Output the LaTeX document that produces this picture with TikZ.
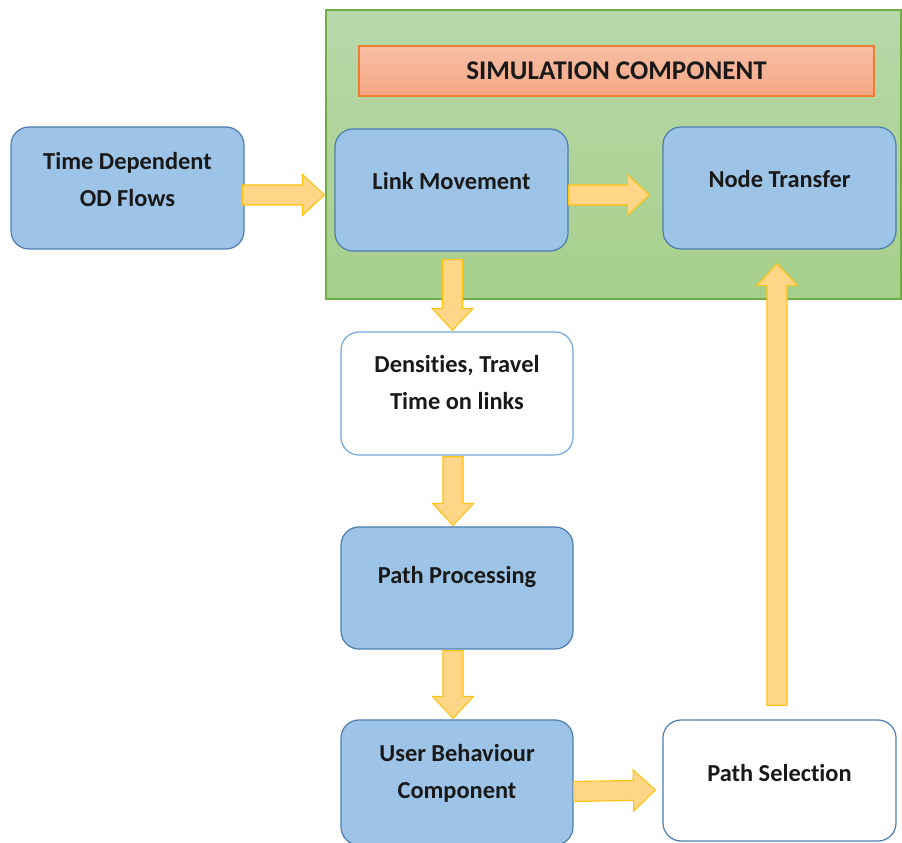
\documentclass[tikz,border=0pt]{standalone}
\usepackage{fontspec}
\setmainfont{Carlito}[Ligatures={NoCommon}]
\usetikzlibrary{calc}

\definecolor{boxfill}{HTML}{9DC3E6}
\definecolor{boxedge}{HTML}{4A7EB0}
\definecolor{lightedge}{HTML}{6FA8DC}
\definecolor{simtop}{HTML}{B8D8A9}
\definecolor{simbottom}{HTML}{A6CF8B}
\definecolor{simedge}{HTML}{70AD47}
\definecolor{bartop}{HTML}{F8BFA6}
\definecolor{barbottom}{HTML}{F4A683}
\definecolor{baredge}{HTML}{ED7D31}
\definecolor{arrowfill}{HTML}{FFD687}
\definecolor{arrowedge}{HTML}{FFC20E}

\tikzset{
  boxtext/.style={font=\bfseries\fontsize{24.4}{37}\selectfont, align=center, text=black!90},
  titletext/.style={font=\bfseries\fontsize{27}{32}\selectfont, text=black!90},
  bluebox/.style={draw=boxedge, fill=boxfill, line width=1.2pt, rounded corners=18pt,
    minimum width=233pt, minimum height=122pt},
  whitebox/.style={bluebox, fill=white},
  container/.style={draw=simedge, top color=simtop, bottom color=simbottom, line width=1.2pt},
  titlebar/.style={draw=baredge, top color=bartop, bottom color=barbottom, line width=1.2pt},
  blockarrow/.style={draw=arrowedge, fill=arrowfill, line width=1.1pt, line join=miter,
    to path={
      let \p1=(\tikztostart), \p2=(\tikztotarget),
          \p3=($(\tikztotarget)!22pt!(\tikztostart)$) in
      ($(\p1)!10pt!90:(\p2)$) -- ($(\p3)!10pt!90:(\p2)$) -- ($(\p3)!20.5pt!90:(\p2)$)
      -- (\p2) -- ($(\p3)!20.5pt!-90:(\p2)$) -- ($(\p3)!10pt!-90:(\p2)$)
      -- ($(\p1)!10pt!-90:(\p2)$) -- cycle}}
}

\begin{document}
\begin{tikzpicture}[x=1pt, y=1pt]
\useasboundingbox (0,0) rectangle (902,843);
\clip (0,0) rectangle (902,843);

% simulation component frame and its title bar
\node[container, minimum width=575pt, minimum height=289pt] (sim) at (613.5,688.5) {};
\node[titlebar, minimum width=515pt, minimum height=50pt, titletext] (title) at (616.5,772)
  {SIMULATION COMPONENT};

% process boxes
\node[bluebox, label={[boxtext, yshift=8.5pt]center:{Time Dependent\\OD Flows}}] (od) at (127.5,655) {};
\node[bluebox, label={[boxtext, yshift=9pt]center:{Link Movement}}] (lm) at (451.5,653) {};
\node[bluebox, label={[boxtext, yshift=9pt]center:{Node Transfer}}] (nt) at (779.5,655) {};
\node[whitebox, draw=lightedge, minimum width=232pt, minimum height=123pt,
  label={[boxtext, yshift=11pt]center:{Densities, Travel\\Time on links}}] (dens) at (457,449.5) {};
\node[bluebox, minimum width=232pt, label={[boxtext, yshift=10.5pt]center:{Path Processing}}] (pp) at (457,255) {};
\node[bluebox, minimum width=232pt, minimum height=125pt,
  label={[boxtext, yshift=9.5pt]center:{User Behaviour\\Component}}] (ub) at (457,60.5) {};
\node[whitebox, minimum height=121pt, label={[boxtext, yshift=7.5pt]center:{Path Selection}}] (ps) at (779.5,62.5) {};

% block arrows between the stages
\draw[blockarrow] ([xshift=-2pt,yshift=-7pt]od.east) to ([xshift=-10pt,yshift=-5pt]lm.west);
\draw[blockarrow] ([yshift=-5pt]lm.east) to ([xshift=-13pt,yshift=-7pt]nt.west);
\draw[blockarrow] ([xshift=1pt,yshift=-8pt]lm.south) to ([xshift=-4.5pt,yshift=1pt]dens.north);
\draw[blockarrow] ([xshift=-4pt,yshift=-1pt]dens.south) to ([xshift=-4pt,yshift=1pt]pp.north);
\draw[blockarrow] ([xshift=-4pt,yshift=-1pt]pp.south) to ([xshift=-4pt,yshift=1pt]ub.north);
\draw[blockarrow] ([yshift=-9pt]ub.east) to ([xshift=-7pt,yshift=-9.5pt]ps.west);
\draw[blockarrow] ([xshift=-2.5pt,yshift=14pt]ps.north) to ([xshift=-2.5pt,yshift=-14pt]nt.south);
\end{tikzpicture}
\end{document}
